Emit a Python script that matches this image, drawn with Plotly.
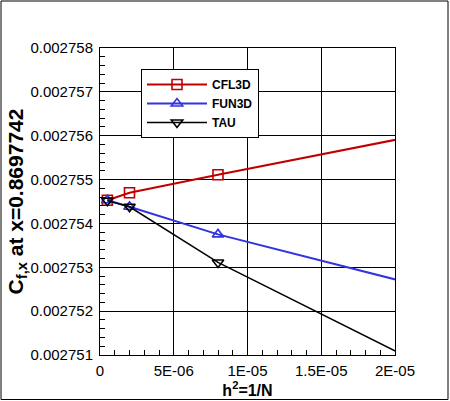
import plotly.graph_objects as go

# grid spacing h^2 = 1/N (finest to coarsest; coarsest lies beyond the x-range)
h2 = [5e-7, 2e-6, 8e-6, 3.2e-5]

cfl3d = [0.00275453, 0.0027547, 0.00275511, 0.0027567]
fun3d = [0.00275453, 0.00275438, 0.00275375, 0.0027517]
tau = [0.00275452, 0.00275438, 0.00275311, 0.00274908]

series_names = ["CFL3D", "FUN3D", "TAU"]

x_tickvals = [0, 5e-6, 1e-5, 1.5e-5, 2e-5]
x_ticktext = ["0", "5E-06", "1E-05", "1.5E-05", "2E-05"]
y_tickvals = [0.002751, 0.002752, 0.002753, 0.002754, 0.002755, 0.002756, 0.002757, 0.002758]
y_ticktext = ["0.002751", "0.002752", "0.002753", "0.002754", "0.002755", "0.002756", "0.002757", "0.002758"]

W, H = 450, 401
ML, MR, MT, MB = 100, 55, 48, 46
PW, PH = W - ML - MR, H - MT - MB

styles = [
    dict(color="#c00000", symbol="square-open", lw=2),
    dict(color="#3333e0", symbol="triangle-up-open", lw=2),
    dict(color="#000000", symbol="triangle-down-open", lw=1.5),
]

fig = go.Figure()
for name, ys, st in zip(series_names, [cfl3d, fun3d, tau], styles):
    fig.add_trace(go.Scatter(
        x=h2, y=ys, name=name, mode="lines+markers",
        line=dict(color=st["color"], width=st["lw"]),
        marker=dict(symbol=st["symbol"], size=10, color=st["color"],
                    line=dict(color=st["color"], width=1.6)),
    ))

tick_font = dict(family="Liberation Sans, Arial, sans-serif", size=15, color="black")

fig.update_layout(
    width=W, height=H,
    margin=dict(l=ML, r=MR, t=MT, b=MB, autoexpand=False),
    paper_bgcolor="white", plot_bgcolor="white",
    showlegend=True,
    legend=dict(
        x=(141 - ML) / PW, y=(355 - 69) / PH, xanchor="left", yanchor="top",
        bgcolor="white", bordercolor="black", borderwidth=1,
        font=dict(family="Liberation Sans, Arial, sans-serif", size=12, color="black", weight="bold"),
        itemwidth=60, tracegroupgap=0,
    ),
    xaxis=dict(
        range=[0, 2e-5], tickvals=x_tickvals, ticktext=x_ticktext,
        showgrid=True, gridcolor="black", gridwidth=1,
        showline=True, linecolor="black", linewidth=1, mirror=True,
        ticks="inside", ticklen=6, tickcolor="black",
        minor=dict(dtick=1e-6, ticks="inside", ticklen=5, tickcolor="black", showgrid=False),
        tickfont=tick_font, zeroline=False, ticklabelstandoff=2,
        title=dict(text="<b>h<sup>2</sup>=1/N</b>", font=dict(family="Liberation Sans, Arial, sans-serif", size=16, color="black"), standoff=0),
    ),
    yaxis=dict(
        range=[0.002751, 0.002758], tickvals=y_tickvals, ticktext=y_ticktext,
        showgrid=True, gridcolor="black", gridwidth=1,
        showline=True, linecolor="black", linewidth=1, mirror=True,
        ticks="inside", ticklen=6, tickcolor="black",
        minor=dict(dtick=2e-7, ticks="inside", ticklen=5, tickcolor="black", showgrid=False),
        tickfont=tick_font, zeroline=False, ticklabelstandoff=3,
        title=dict(text="<b>C<sub>f,x</sub> at x=0.8697742</b>", font=dict(family="Liberation Sans, Arial, sans-serif", size=21, color="black"), standoff=1),
    ),
)

# outer frame around the whole picture
fig.add_shape(type="rect", xref="paper", yref="paper",
              x0=(1 - ML) / PW, x1=(448 - ML) / PW,
              y0=(H - MB - 399.5) / PH, y1=(H - MB - 1) / PH,
              line=dict(color="black", width=1), fillcolor="rgba(0,0,0,0)", layer="above")

fig.write_html("out.html", config={"displayModeBar": False},
               post_script="document.body.style.margin='0';document.body.style.overflow='hidden';")
